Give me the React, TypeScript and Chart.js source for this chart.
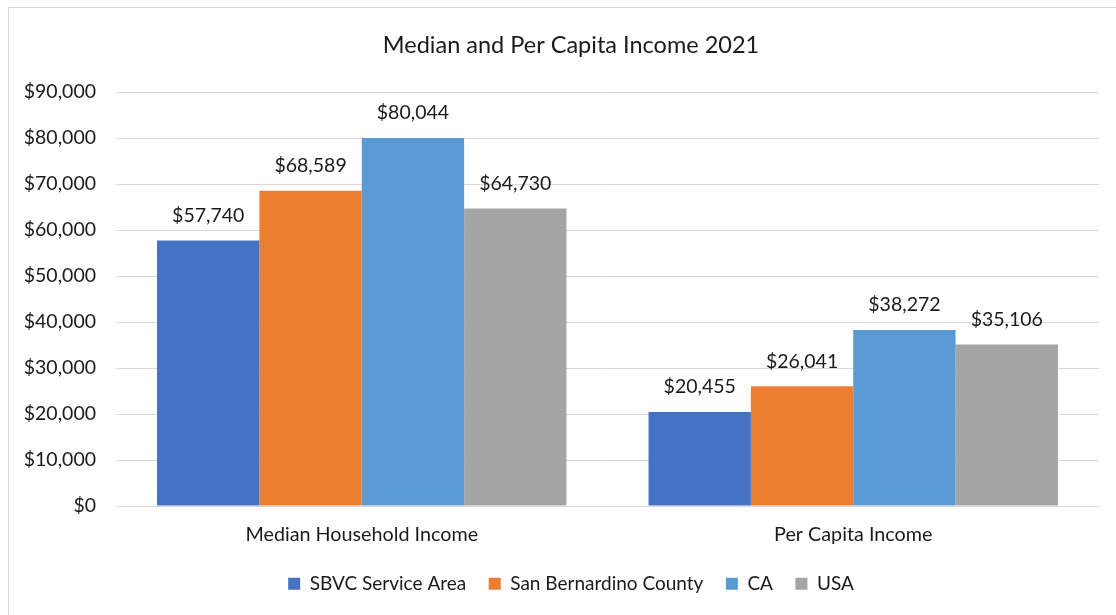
import React, { useEffect, useRef } from "react";
import { Chart, registerables } from "chart.js";

Chart.register(...registerables);

const categories = ["Median Household Income", "Per Capita Income"];
const seriesNames = ["SBVC Service Area", "San Bernardino County", "CA", "USA"];
const sbvcValues = [57740, 20455];
const countyValues = [68589, 26041];
const caValues = [80044, 38272];
const usaValues = [64730, 35106];
const seriesColors = ["#4472C4", "#ED7D31", "#5B9BD5", "#A5A5A5"];
const titleText = "Median and Per Capita Income 2021";

const FONT = "Lato, 'Open Sans', sans-serif";
const TEXT = "#1a1a1a";

const fmt = (v: number) => "$" + v.toLocaleString("en-US");

const valueLabels = {
  id: "valueLabels",
  afterDatasetsDraw(chart: any) {
    const { ctx } = chart;
    ctx.save();
    ctx.font = `19.5px ${FONT}`;
    ctx.fillStyle = TEXT;
    ctx.textAlign = "center";
    ctx.textBaseline = "middle";
    chart.data.datasets.forEach((ds: any, di: number) => {
      const meta = chart.getDatasetMeta(di);
      meta.data.forEach((bar: any, i: number) => {
        ctx.fillText(fmt(ds.data[i] as number), bar.x, bar.y - 25);
      });
    });
    ctx.restore();
  },
};

// shift the title and legend so that they are centred like the original layout
const centerShift = {
  id: "centerShift",
  afterLayout(chart: any) {
    if (chart.titleBlock) chart.titleBlock.left = 43;
    if (chart.legend) chart.legend.left = 43;
  },
};

export default function App() {
  const ref = useRef<HTMLCanvasElement>(null);
  useEffect(() => {
    if (!ref.current) return;
    const all = [sbvcValues, countyValues, caValues, usaValues];
    const chart = new Chart(ref.current, {
      type: "bar",
      data: {
        labels: categories,
        datasets: all.map((d, i) => ({
          label: seriesNames[i],
          data: d,
          backgroundColor: seriesColors[i],
          borderWidth: 0,
          barPercentage: 1,
          categoryPercentage: 0.833,
        })),
      },
      options: {
        animation: false,
        responsive: false,
        devicePixelRatio: 1,
        layout: { padding: { left: 0, right: 17, top: 0, bottom: 11.8 } },
        plugins: {
          title: {
            display: true,
            text: titleText,
            color: TEXT,
            font: { family: FONT, size: 23.5, weight: "normal" },
            padding: { top: 31, bottom: 33 },
          },
          legend: {
            position: "bottom",
            labels: {
              color: TEXT,
              font: { family: FONT, size: 19 },
              boxWidth: 12,
              boxHeight: 12,
              padding: 22.5,
            },
          },
          tooltip: { enabled: false },
        },
        scales: {
          x: {
            grid: { display: false },
            border: { display: true, color: "#d9d9d9", width: 1 },
            ticks: { color: TEXT, font: { family: FONT, size: 19.75 }, padding: 9 },
            afterFit: (s: any) => {
              s.height = 45.7;
            },
          },
          y: {
            min: 0,
            max: 90000,
            ticks: {
              stepSize: 10000,
              color: TEXT,
              font: { family: FONT, size: 19.5 },
              padding: 20,
              callback: (v: any) => fmt(Number(v)),
            },
            grid: { color: "#d9d9d9", lineWidth: 1, drawTicks: false },
            border: { display: false },
            afterFit: (s: any) => {
              s.width = 116;
            },
          },
        },
      },
      plugins: [valueLabels, centerShift],
    });
    return () => chart.destroy();
  }, []);

  return (
    <div style={{ position: "fixed", left: 0, top: 0, width: 1116, height: 615, overflow: "hidden", background: "#fff" }}>
      <div
        style={{
          position: "absolute",
          left: 8,
          top: 7,
          width: 1300,
          height: 800,
          border: "1px solid #d9d9d9",
        }}
      />
      <canvas ref={ref} width={1116} height={615} style={{ position: "absolute", left: 0, top: 0 }} />
    </div>
  );
}
